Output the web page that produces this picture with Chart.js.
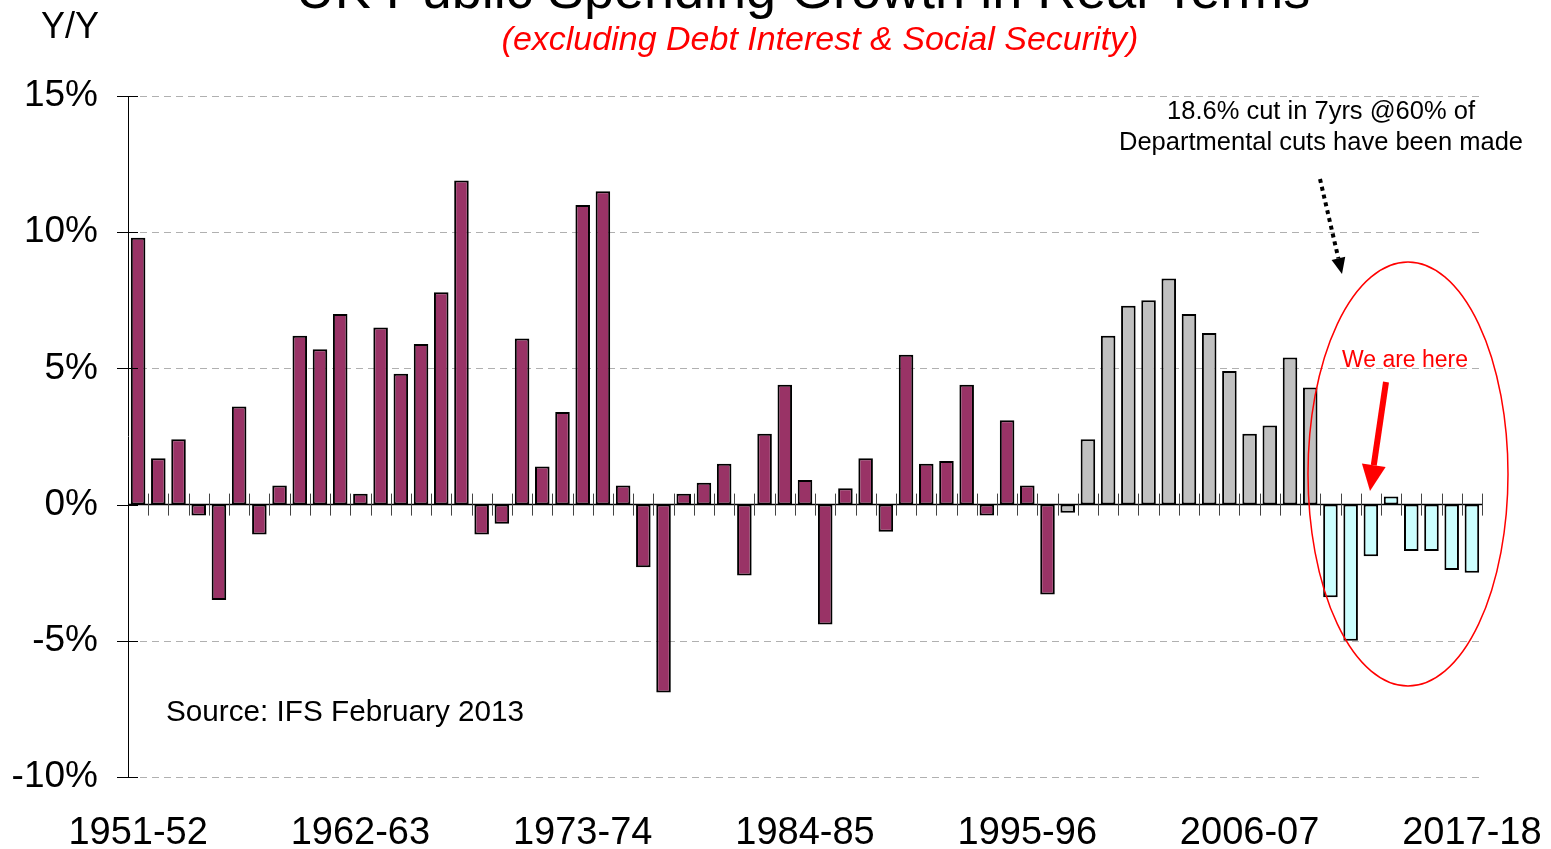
<!DOCTYPE html>
<html>
<head>
<meta charset="utf-8">
<script src="https://cdn.jsdelivr.net/npm/chart.js@4.4.0/dist/chart.umd.min.js"></script>
<style>
  html, body { margin: 0; padding: 0; background: #fff; }
</style>
</head>
<body>
<canvas id="spendChart" width="1551" height="849"></canvas>
<script>
const years = [
  '1951-52', '1952-53', '1953-54', '1954-55', '1955-56', '1956-57', '1957-58', '1958-59', '1959-60', '1960-61',
  '1961-62', '1962-63', '1963-64', '1964-65', '1965-66', '1966-67', '1967-68', '1968-69', '1969-70', '1970-71',
  '1971-72', '1972-73', '1973-74', '1974-75', '1975-76', '1976-77', '1977-78', '1978-79', '1979-80', '1980-81',
  '1981-82', '1982-83', '1983-84', '1984-85', '1985-86', '1986-87', '1987-88', '1988-89', '1989-90', '1990-91',
  '1991-92', '1992-93', '1993-94', '1994-95', '1995-96', '1996-97', '1997-98', '1998-99', '1999-00', '2000-01',
  '2001-02', '2002-03', '2003-04', '2004-05', '2005-06', '2006-07', '2007-08', '2008-09', '2009-10', '2010-11',
  '2011-12', '2012-13', '2013-14', '2014-15', '2015-16', '2016-17', '2017-18'
];

// real-terms growth, % y/y
const growth = [
  9.8, 1.7, 2.4, -0.4, -3.5, 3.6, -1.1, 0.7, 6.2, 5.7,
  7.0, 0.4, 6.5, 4.8, 5.9, 7.8, 11.9, -1.1, -0.7, 6.1,
  1.4, 3.4, 11.0, 11.5, 0.7, -2.3, -6.9, 0.4, 0.8, 1.5,
  -2.6, 2.6, 4.4, 0.9, -4.4, 0.6, 1.7, -1.0, 5.5, 1.5,
  1.6, 4.4, -0.4, 3.1, 0.7, -3.3, -0.3, 2.4, 6.2, 7.3,
  7.5, 8.3, 7.0, 6.3, 4.9, 2.6, 2.9, 5.4, 4.3, -3.4,
  -5.0, -1.9, 0.3, -1.7, -1.7, -2.4, -2.5
];

const labourFrom = '1997-98';
const plansFrom = '2010-11';

const xTickLabels = ['1951-52', '1962-63', '1973-74', '1984-85', '1995-96', '2006-07', '2017-18'];
const yTicks = [-10, -5, 0, 5, 10, 15];

const FONT = "'Liberation Sans', Arial, sans-serif";

const barColor = (i) => {
  if (i >= years.indexOf(plansFrom)) return '#CCFFFF';
  if (i >= years.indexOf(labourFrom)) return '#C0C0C0';
  return '#993366';
};

function arrow(ctx, x1, y1, x2, y2, width, headLen, headW, color, dash) {
  const ang = Math.atan2(y2 - y1, x2 - x1);
  const bx = x2 - headLen * Math.cos(ang), by = y2 - headLen * Math.sin(ang);
  ctx.save();
  ctx.strokeStyle = color;
  ctx.fillStyle = color;
  ctx.lineWidth = width;
  ctx.setLineDash(dash || []);
  ctx.beginPath();
  ctx.moveTo(x1, y1);
  ctx.lineTo(bx, by);
  ctx.stroke();
  ctx.setLineDash([]);
  const px = -Math.sin(ang) * headW / 2, py = Math.cos(ang) * headW / 2;
  ctx.beginPath();
  ctx.moveTo(x2, y2);
  ctx.lineTo(bx + px, by + py);
  ctx.lineTo(bx - px, by - py);
  ctx.closePath();
  ctx.fill();
  ctx.restore();
}

const decor = {
  id: 'decor',
  beforeDatasetsDraw(chart) {
    const { ctx, chartArea, scales: { y } } = chart;
    // dashed gridlines
    ctx.save();
    ctx.strokeStyle = '#B0B0B0';
    ctx.lineWidth = 1;
    ctx.setLineDash([7, 5]);
    yTicks.filter(v => v !== 0).forEach(v => {
      const py = Math.round(y.getPixelForValue(v)) + 0.5;
      ctx.beginPath();
      ctx.moveTo(chartArea.left, py);
      ctx.lineTo(chartArea.right, py);
      ctx.stroke();
    });
    ctx.restore();
  },
  afterDatasetsDraw(chart) {
    const { ctx, chartArea, scales: { x, y } } = chart;
    const y0 = y.getPixelForValue(0);
    ctx.save();
    // zero axis + category ticks
    ctx.strokeStyle = '#000';
    ctx.lineWidth = 1.5;
    ctx.beginPath();
    ctx.moveTo(chartArea.left, y0);
    ctx.lineTo(chartArea.right, y0);
    ctx.stroke();
    ctx.strokeStyle = '#444';
    ctx.lineWidth = 1;
    const step = x.getPixelForValue(1) - x.getPixelForValue(0);
    for (let i = 1; i <= years.length; i++) {
      const px = Math.round(x.getPixelForValue(i) - step / 2) + 0.5;
      ctx.beginPath();
      ctx.moveTo(px, y0 - 11);
      ctx.lineTo(px, y0 + 11);
      ctx.stroke();
    }
    // y axis + tick crosses
    ctx.strokeStyle = '#000';
    const ax = Math.round(chartArea.left) + 0.5;
    ctx.beginPath();
    ctx.moveTo(ax, chartArea.top);
    ctx.lineTo(ax, chartArea.bottom);
    ctx.stroke();
    yTicks.forEach(v => {
      const py = Math.round(y.getPixelForValue(v)) + 0.5;
      ctx.beginPath();
      ctx.moveTo(chartArea.left - 11, py);
      ctx.lineTo(chartArea.left + 10, py);
      ctx.stroke();
    });
    ctx.restore();
  },
  afterDraw(chart) {
    const ctx = chart.ctx;
    ctx.save();
    ctx.textAlign = 'center';
    ctx.textBaseline = 'alphabetic';

    ctx.fillStyle = '#000';
    ctx.font = '54px ' + FONT;
    ctx.fillText('UK Public Spending Growth in Real Terms', 803, 8);

    ctx.fillStyle = '#FF0000';
    ctx.font = 'italic 34px ' + FONT;
    ctx.fillText('(excluding Debt Interest & Social Security)', 820, 50);

    ctx.fillStyle = '#000';
    ctx.font = '36px ' + FONT;
    ctx.fillText('Y/Y', 70, 38);

    ctx.font = '25.5px ' + FONT;
    ctx.fillText('18.6% cut in 7yrs @60% of', 1321, 119);
    ctx.fillText('Departmental cuts have been made', 1321, 150);

    ctx.textAlign = 'left';
    ctx.font = '29.7px ' + FONT;
    ctx.fillText('Source: IFS February 2013', 166, 721);

    ctx.textAlign = 'center';
    ctx.fillStyle = '#FF0000';
    ctx.font = '23px ' + FONT;
    ctx.fillText('We are here', 1405, 367);

    // red ellipse round the plans
    ctx.strokeStyle = '#FF0000';
    ctx.lineWidth = 1.5;
    ctx.beginPath();
    ctx.ellipse(1408, 474, 100, 212, 0, 0, Math.PI * 2);
    ctx.stroke();

    arrow(ctx, 1386, 382, 1370, 491, 6, 26, 24, '#FF0000');
    arrow(ctx, 1320, 179, 1342, 274, 4, 16, 14, '#000', [4, 4]);
    ctx.restore();
  }
};

new Chart(document.getElementById('spendChart').getContext('2d'), {
  type: 'bar',
  data: {
    labels: years,
    datasets: [{
      data: growth,
      backgroundColor: growth.map((v, i) => barColor(i)),
      borderColor: '#000',
      borderWidth: 2,
      borderSkipped: false,
      barPercentage: 0.72,
      categoryPercentage: 1
    }]
  },
  options: {
    responsive: false,
    animation: false,
    devicePixelRatio: 1,
    layout: { padding: { top: 96, right: 69, left: 0, bottom: 0 } },
    plugins: { legend: { display: false }, tooltip: { enabled: false } },
    scales: {
      x: {
        grid: { display: false, drawTicks: false },
        border: { display: false },
        afterFit: (s) => { s.height = 72; s.paddingLeft = 0; s.paddingRight = 0; },
        ticks: {
          autoSkip: false,
          maxRotation: 0,
          padding: 34,
          color: '#000',
          font: { family: FONT, size: 38 },
          callback: (v, i) => xTickLabels.includes(years[i]) ? years[i] : ''
        }
      },
      y: {
        min: -10,
        max: 15,
        afterFit: (s) => { s.width = 128; },
        afterBuildTicks: (s) => { s.ticks = yTicks.map(v => ({ value: v })); },
        border: { display: false },
        grid: { display: false, drawTicks: false },
        ticks: {
          padding: 30,
          color: '#000',
          font: { family: FONT, size: 37 },
          callback: (v) => v + '%'
        }
      }
    }
  },
  plugins: [decor]
});
</script>
</body>
</html>
